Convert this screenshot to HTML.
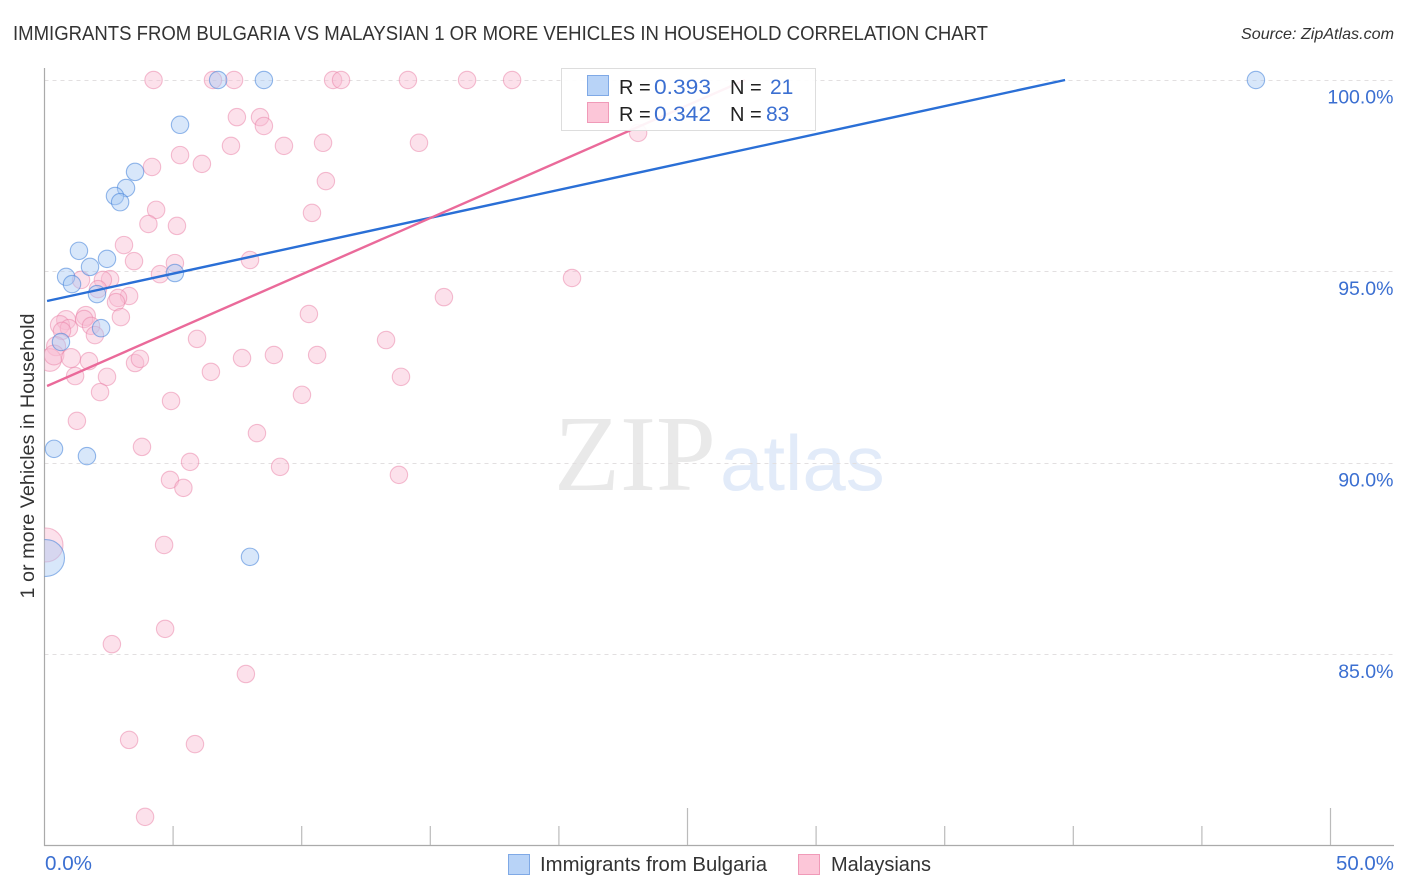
<!DOCTYPE html>
<html lang="en">
<head>
<meta charset="utf-8">
<title>Immigrants from Bulgaria vs Malaysian 1 or more Vehicles in Household Correlation Chart</title>
<style>
html,body{margin:0;padding:0;background:#fff;}
svg{display:block;font-family:"Liberation Sans",sans-serif;}
</style>
</head>
<body>
<svg id="chart" xmlns="http://www.w3.org/2000/svg" width="1406" height="892" viewBox="0 0 1406 892">
  <defs>
    <clipPath id="plot-clip"><rect x="44.5" y="60" width="1350" height="786"/></clipPath>
  </defs>
  <rect width="1406" height="892" fill="#fff"/>
  <text x="13" y="40" font-size="20" fill="#333" textLength="975" lengthAdjust="spacingAndGlyphs">IMMIGRANTS FROM BULGARIA VS MALAYSIAN 1 OR MORE VEHICLES IN HOUSEHOLD CORRELATION CHART</text>
  <text x="1241" y="39" font-size="16" font-style="italic" fill="#333" textLength="153" lengthAdjust="spacingAndGlyphs">Source: ZipAtlas.com</text>
  <g>
    <text x="554" y="490" font-family="'Liberation Serif',serif" font-size="108" fill="#e9e9e9">ZIP</text>
    <text x="720" y="490" font-size="78" fill="#e2ebf9">atlas</text>
  </g>
  <g id="grid"></g>
  <g id="axes"></g>
  <g id="dots" clip-path="url(#plot-clip)"></g>
  <g id="trends"></g>
  <g id="ylabels"></g>
  <text transform="translate(34 456) rotate(-90)" font-size="19" fill="#333" text-anchor="middle" textLength="285" lengthAdjust="spacingAndGlyphs">1 or more Vehicles in Household</text>
  <text x="45" y="870" font-size="20" fill="#3b6fd1" textLength="47" lengthAdjust="spacingAndGlyphs">0.0%</text>
  <text x="1336" y="870" font-size="20" fill="#3b6fd1" textLength="58" lengthAdjust="spacingAndGlyphs">50.0%</text>

  <g>
    <rect x="561.5" y="68.5" width="254" height="62" fill="#fff" fill-opacity="0.92" stroke="#ddd"/>
    <rect x="587.5" y="75.5" width="21" height="20" fill="#b8d3f7" stroke="#7fa9e6"/>
    <rect x="587.5" y="102.5" width="21" height="20" fill="#fcc6d8" stroke="#f09ab8"/>
    <text x="619" y="94" font-size="20" fill="#222">R =</text>
    <text x="654" y="94" font-size="21" fill="#3b6fd1" textLength="57" lengthAdjust="spacingAndGlyphs">0.393</text>
    <text x="730" y="94" font-size="20" fill="#222">N =</text>
    <text x="770" y="94" font-size="21" fill="#3b6fd1">21</text>
    <text x="619" y="121" font-size="20" fill="#222">R =</text>
    <text x="654" y="121" font-size="21" fill="#3b6fd1" textLength="57" lengthAdjust="spacingAndGlyphs">0.342</text>
    <text x="730" y="121" font-size="20" fill="#222">N =</text>
    <text x="766" y="121" font-size="21" fill="#3b6fd1">83</text>
  </g>

  <g>
    <rect x="508.5" y="854.5" width="21" height="20" fill="#b8d3f7" stroke="#7fa9e6"/>
    <text x="540" y="871" font-size="20" fill="#333" textLength="227" lengthAdjust="spacingAndGlyphs">Immigrants from Bulgaria</text>
    <rect x="798.5" y="854.5" width="21" height="20" fill="#fcc6d8" stroke="#f09ab8"/>
    <text x="831" y="871" font-size="20" fill="#333" textLength="100" lengthAdjust="spacingAndGlyphs">Malaysians</text>
  </g>
</svg>
<script>
const yTickValues = [100, 95, 90, 85];
const yTickLabels = ["100.0%", "95.0%", "90.0%", "85.0%"];
const xTickValues = [0, 5, 10, 15, 20, 25, 30, 35, 40, 45, 50];
const xMajorTicks = [25, 50];

const bulgariaX = [6.75,8.53,47.10,5.27,3.52,3.17,2.74,2.94,1.34,2.43,1.77,0.84,5.07,1.07,2.04,2.20,0.64,0.37,1.65,7.99,0.06];
const bulgariaY = [100,100,100,98.83,97.60,97.18,96.97,96.81,95.54,95.33,95.12,94.86,94.96,94.67,94.41,93.52,93.16,90.37,90.18,87.55,87.52];
const bulgariaWeight = [1,1,1,1,1,1,1,1,1,1,1,1,1,1,1,1,1,1,1,1,4.5];

const malaysiansX = [4.24,6.55,7.37,11.22,11.53,14.13,16.43,18.18,7.48,8.38,8.53,7.25,9.31,5.27,6.12,4.18,4.34,4.04,5.15,3.09,3.48,5.07,4.49,7.99,1.42,2.55,2.27,2.08,3.29,2.86,2.78,2.97,0.84,0.60,1.61,1.54,1.81,0.95,0.68,1.96,0.45,5.93,7.68,8.92,0.21,0.37,1.03,1.73,3.52,3.71,1.19,2.43,2.16,4.92,6.47,1.26,8.26,3.79,5.66,9.16,4.88,5.40,4.65,4.69,2.62,7.83,3.29,5.85,3.91,10.83,10.94,10.40,14.56,23.08,20.51,15.53,10.28,13.28,10.60,13.86,10.01,13.78,0.06];
const malaysiansY = [100,100,100,100,100,100,100,100,99.03,99.03,98.80,98.28,98.28,98.04,97.81,97.73,96.61,96.24,96.19,95.69,95.27,95.22,94.93,95.30,94.78,94.80,94.78,94.54,94.36,94.31,94.20,93.81,93.73,93.60,93.84,93.76,93.58,93.52,93.45,93.34,93.05,93.24,92.74,92.82,92.69,92.82,92.74,92.66,92.61,92.72,92.27,92.25,91.85,91.62,92.38,91.10,90.78,90.42,90.03,89.90,89.56,89.35,87.86,85.67,85.27,84.49,82.77,82.66,80.76,98.36,97.36,96.53,98.36,98.62,94.83,94.33,93.89,93.21,92.82,92.25,91.78,89.69,87.86];
const malaysiansWeight = [
  1,1,1,1,1,1,1,1,1,1,
  1,1,1,1,1,1,1,1,1,1,
  1,1,1,1,1,1,1,1,1,1,
  1,1,1.2,1.2,1.2,1,1,1,1,1,
  1.2,1,1,1,1.7,1.3,1.2,1,1,1,
  1,1,1,1,1,1,1,1,1,1,
  1,1,1,1,1,1,1,1,1,1,
  1,1,1,1,1,1,1,1,1,1,
  1,1,3.8
];

const bulgariaTrendX = [0.1, 39.68];
const bulgariaTrendY = [94.23, 100];
const malaysiansTrendX = [0.1, 27.24];
const malaysiansTrendY = [92.01, 100];

const NS = "http://www.w3.org/2000/svg";
const xAxis = function (v) { return 44.5 + v * 25.72; };
const yAxis = function (v) { return 80 + (100 - v) * 38.3; };
const baseRadius = 8.7;

function make(tag, parent, attrs) {
  const el = document.createElementNS(NS, tag);
  for (const k in attrs) el.setAttribute(k, attrs[k]);
  parent.appendChild(el);
  return el;
}

const grid = document.getElementById("grid");
const axes = document.getElementById("axes");
const dots = document.getElementById("dots");
const trends = document.getElementById("trends");
const ylabels = document.getElementById("ylabels");

yTickValues.forEach(function (v, i) {
  const py = Math.floor(yAxis(v)) + 0.5;
  const line = make("line", grid, {x1: 44.5, x2: 1393, y1: py, y2: py, stroke: "#e2dfe0", "stroke-width": 1, "stroke-dasharray": "4 4"});
  
  
  const label = make("text", ylabels, {x: 1393.5, y: yAxis(v) + 23.5, "font-size": 19.5, fill: "#3b6fd1", "text-anchor": "end"});
  label.textContent = yTickLabels[i];
  
  
});

const yAxisLine = make("line", axes, {x1: 44.5, x2: 44.5, y1: 68, y2: 846, stroke: "#aaa", "stroke-width": 1.2});


const xAxisLine = make("line", axes, {x1: 44, x2: 1394, y1: 845.5, y2: 845.5, stroke: "#aaa", "stroke-width": 1.2});


xTickValues.forEach(function (v) {
  if (v === 0) return;
  const px = xAxis(v);
  const top = xMajorTicks.indexOf(v) >= 0 ? 808 : 826;
  const tick = make("line", axes, {x1: px, x2: px, y1: top, y2: 845, stroke: "#bbb", "stroke-width": 1.2});
  
  
});

malaysiansX.forEach(function (v, i) {
  const c = make("circle", dots, {cx: xAxis(v), cy: yAxis(malaysiansY[i]), r: baseRadius * Math.sqrt(malaysiansWeight[i]), fill: "#f9bdd2", "fill-opacity": 0.45, stroke: "#ea7fa5", "stroke-opacity": 0.5, "stroke-width": 1.1});
  
  
});
bulgariaX.forEach(function (v, i) {
  const c = make("circle", dots, {cx: xAxis(v), cy: yAxis(bulgariaY[i]), r: baseRadius * Math.sqrt(bulgariaWeight[i]), fill: "#a9c9f5", "fill-opacity": 0.45, stroke: "#3f7fd8", "stroke-opacity": 0.55, "stroke-width": 1.1});
  
  
});

const blueTrend = make("line", trends, {x1: xAxis(bulgariaTrendX[0]), y1: yAxis(bulgariaTrendY[0]), x2: xAxis(bulgariaTrendX[1]), y2: yAxis(bulgariaTrendY[1]), stroke: "#2a6fd6", "stroke-width": 2.4});


const pinkTrend = make("line", trends, {x1: xAxis(malaysiansTrendX[0]), y1: yAxis(malaysiansTrendY[0]), x2: xAxis(malaysiansTrendX[1]), y2: yAxis(malaysiansTrendY[1]), stroke: "#ea6a9a", "stroke-width": 2.4});


</script>
</body>
</html>
